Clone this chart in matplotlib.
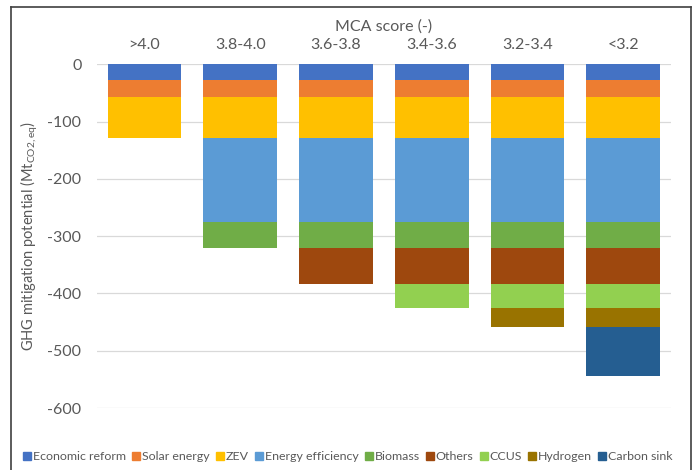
import matplotlib
matplotlib.use("Agg")
import matplotlib.pyplot as plt
from matplotlib.lines import Line2D
import numpy as np

# MCA score classes (top axis)
categories = [">4.0", "3.8-4.0", "3.6-3.8", "3.4-3.6", "3.2-3.4", "<3.2"]

# Mitigation options, stacked downward (Mt CO2,eq)
series_names = ["Economic reform", "Solar energy", "ZEV", "Energy efficiency",
                "Biomass", "Others", "CCUS", "Hydrogen", "Carbon sink"]
economic_reform = [-28, -28, -28, -28, -28, -28]
solar_energy = [-29, -29, -29, -29, -29, -29]
zev = [-72, -72, -72, -72, -72, -72]
energy_efficiency = [0, -146, -146, -146, -146, -146]
biomass = [0, -45, -45, -45, -45, -45]
others = [0, 0, -64, -64, -64, -64]
ccus = [0, 0, 0, -42, -42, -42]
hydrogen = [0, 0, 0, 0, -32, -32]
carbon_sink = [0, 0, 0, 0, 0, -86]

yticks = [0, -100, -200, -300, -400, -500, -600]

colors = ["#4472C4", "#ED7D31", "#FFC000", "#5B9BD5", "#70AD47",
          "#9E480E", "#92D050", "#997300", "#255E91"]

plt.rcParams["font.family"] = ["Lato", "DejaVu Sans"]
text_color = "#595959"

fig = plt.figure(figsize=(6.97, 4.70), dpi=100)
W, H = 697, 470
ax = fig.add_axes([96.7 / W, 1 - 408 / H, (671 - 96.7) / W, (408 - 64.3) / H])

all_series = [economic_reform, solar_energy, zev, energy_efficiency,
              biomass, others, ccus, hydrogen, carbon_sink]
x = np.arange(len(categories))
bottom = np.zeros(len(categories))
for name, vals, col in zip(series_names, all_series, colors):
    v = np.array(vals, dtype=float)
    ax.bar(x, v, bottom=bottom, width=0.77, color=col, label=name, zorder=3)
    bottom += v

ax.set_xlim(-0.5, len(categories) - 0.5)
ax.set_ylim(-600, 0)
ax.set_yticks(yticks)
ax.set_yticklabels([str(t) for t in yticks])
ax.yaxis.grid(True, color="#D9D9D9", linewidth=0.9, zorder=0)
ax.tick_params(axis="y", length=0, labelsize=11.5, colors=text_color, pad=11)

ax.xaxis.tick_top()
ax.set_xticks(x)
ax.set_xticklabels(categories)
ax.tick_params(axis="x", length=0, labelsize=11.5, colors=text_color, pad=9)
ax.xaxis.set_label_position("top")
ax.set_xlabel("MCA score (-)", fontsize=11.5, color=text_color, labelpad=5)

for s in ax.spines.values():
    s.set_visible(False)

ax.set_ylabel(r"GHG mitigation potential (Mt$_{\mathregular{CO2,eq}}$)",
              fontsize=10.5, color=text_color)
ax.yaxis.set_label_coords((40 - 96.7) / (671 - 96.7), 0.5)

handles = [Line2D([0], [0], marker="s", linestyle="none", markersize=6,
                  markerfacecolor=c, markeredgecolor=c) for c in colors]
fig.legend(handles, series_names, loc="center", ncol=9,
           bbox_to_anchor=(348 / W, 1 - 457 / H), frameon=False,
           fontsize=8.9, handlelength=0.6, handletextpad=0.15,
           columnspacing=0.55, labelcolor=text_color, borderaxespad=0)

# outer frame
fx0, fx1, fy0 = 11 / W, 691 / W, 1 - 7 / H
for xs, ys in [([fx0, fx0], [0, fy0]), ([fx0, fx1], [fy0, fy0]), ([fx1, fx1], [fy0, 0])]:
    fig.add_artist(Line2D(xs, ys, color="#404040", linewidth=1.2,
                          transform=fig.transFigure))

fig.savefig("out.png", dpi=100)
